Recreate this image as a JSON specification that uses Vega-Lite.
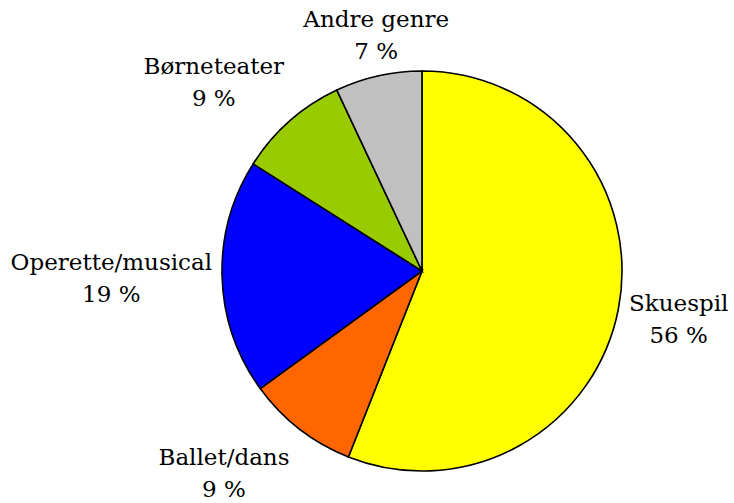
{
  "$schema": "https://vega.github.io/schema/vega-lite/v6.json",
  "autosize": "none",
  "width": 624,
  "height": 464,
  "padding": {"left": 110, "top": 39, "right": 0, "bottom": 0},
  "background": "white",
  "config": {"view": {"stroke": null}},
  "data": {
    "values": [
      {"i": 1, "genre": "Skuespil", "value": 56},
      {"i": 2, "genre": "Ballet/dans", "value": 9},
      {"i": 3, "genre": "Operette/musical", "value": 19},
      {"i": 4, "genre": "Børneteater", "value": 9},
      {"i": 5, "genre": "Andre genre", "value": 7}
    ]
  },
  "transform": [
    {"window": [{"op": "sum", "field": "value", "as": "cum"}], "sort": [{"field": "i"}], "frame": [null, 0]},
    {"joinaggregate": [{"op": "sum", "field": "value", "as": "total"}]},
    {"calculate": "(datum.cum - datum.value / 2) / datum.total * 2 * PI", "as": "mid"},
    {"calculate": "length(datum.genre) * 6.3", "as": "hw"},
    {"calculate": "210 * sin(datum.mid) + datum.hw * (sin(datum.mid) < 0 ? -1 : 1) * clamp((abs(sin(datum.mid)) - 0.25) * 3, 0, 1)", "as": "lx"},
    {"calculate": "-210 * cos(datum.mid) - 30 * clamp(cos(datum.mid) * 1.35, -1, 1) + 9 * max(0, -cos(datum.mid))", "as": "ly"},
    {"calculate": "sqrt(datum.lx * datum.lx + datum.ly * datum.ly)", "as": "lr"},
    {"calculate": "atan2(datum.lx, -datum.ly)", "as": "la"},
    {"calculate": "datum.genre + '\\n' + datum.value + ' %'", "as": "label"}
  ],
  "layer": [
    {
      "mark": {"type": "arc", "outerRadius": 200, "stroke": "black", "strokeWidth": 1.6},
      "encoding": {
        "theta": {"field": "value", "type": "quantitative", "stack": true},
        "order": {"field": "i", "type": "quantitative"},
        "color": {
          "field": "genre",
          "type": "nominal",
          "scale": {
            "domain": ["Skuespil", "Ballet/dans", "Operette/musical", "Børneteater", "Andre genre"],
            "range": ["#FFFF00", "#FF6600", "#0000FF", "#99CC00", "#C0C0C0"]
          },
          "legend": null
        }
      }
    },
    {
      "mark": {"type": "text", "font": "DejaVu Serif", "fontSize": 23, "lineHeight": 32, "lineBreak": "\n", "align": "center", "baseline": "middle", "dy": -16, "color": "black"},
      "encoding": {
        "theta": {"field": "la", "type": "quantitative", "stack": null, "scale": {"domain": [0, 6.283185307179586], "range": [0, 6.283185307179586]}},
        "radius": {"field": "lr", "type": "quantitative", "scale": null},
        "text": {"field": "label", "type": "nominal"}
      }
    }
  ],
  "resolve": {"scale": {"theta": "independent"}}
}
